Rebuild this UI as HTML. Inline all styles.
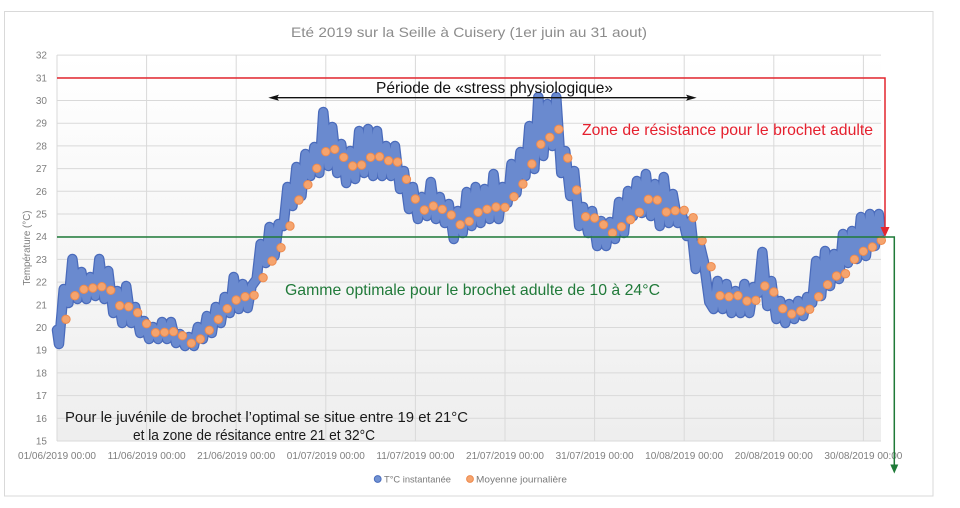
<!DOCTYPE html>
<html>
<head>
<meta charset="utf-8">
<style>
  html, body { margin: 0; padding: 0; background: #ffffff; }
  body { width: 960px; height: 508px; overflow: hidden; }
  svg { display: block; font-family: "Liberation Sans", "DejaVu Sans", sans-serif; }
</style>
</head>
<body>
<svg width="960" height="508" viewBox="0 0 960 508" xmlns="http://www.w3.org/2000/svg">
  <defs>
    <linearGradient id="bg" x1="0" y1="0" x2="0" y2="1">
      <stop offset="0" stop-color="#ffffff"/>
      <stop offset="1" stop-color="#eeeeee"/>
    </linearGradient>
  </defs>

  <!-- chart border -->
  <rect x="4.5" y="11.5" width="928.5" height="484.5" fill="#ffffff" stroke="#d9d9d9" stroke-width="1"/>

  <!-- title -->
  <text x="291" y="37" font-size="14" fill="#8c8c8c" textLength="356" lengthAdjust="spacingAndGlyphs">Eté 2019 sur la Seille à Cuisery (1er juin au 31 aout)</text>

  <!-- plot background -->
  <rect x="57" y="55" width="824" height="386" fill="url(#bg)"/>

  <!-- horizontal gridlines -->
  <g stroke="#d9d9d9" stroke-width="1">
    <line x1="57" x2="881" y1="441" y2="441"/>
    <line x1="57" x2="881" y1="418.3" y2="418.3"/>
    <line x1="57" x2="881" y1="395.6" y2="395.6"/>
    <line x1="57" x2="881" y1="372.9" y2="372.9"/>
    <line x1="57" x2="881" y1="350.2" y2="350.2"/>
    <line x1="57" x2="881" y1="327.5" y2="327.5"/>
    <line x1="57" x2="881" y1="304.8" y2="304.8"/>
    <line x1="57" x2="881" y1="282.1" y2="282.1"/>
    <line x1="57" x2="881" y1="259.4" y2="259.4"/>
    <line x1="57" x2="881" y1="236.7" y2="236.7"/>
    <line x1="57" x2="881" y1="214" y2="214"/>
    <line x1="57" x2="881" y1="191.3" y2="191.3"/>
    <line x1="57" x2="881" y1="168.6" y2="168.6"/>
    <line x1="57" x2="881" y1="145.9" y2="145.9"/>
    <line x1="57" x2="881" y1="123.2" y2="123.2"/>
    <line x1="57" x2="881" y1="100.5" y2="100.5"/>
    <line x1="57" x2="881" y1="77.8" y2="77.8"/>
    <line x1="57" x2="881" y1="55.1" y2="55.1"/>
  </g>
  <!-- vertical gridlines -->
  <g stroke="#d9d9d9" stroke-width="1">
    <line x1="57" x2="57" y1="55" y2="441"/>
    <line x1="146.6" x2="146.6" y1="55" y2="441"/>
    <line x1="236.2" x2="236.2" y1="55" y2="441"/>
    <line x1="325.8" x2="325.8" y1="55" y2="441"/>
    <line x1="415.4" x2="415.4" y1="55" y2="441"/>
    <line x1="505" x2="505" y1="55" y2="441"/>
    <line x1="594.6" x2="594.6" y1="55" y2="441"/>
    <line x1="684.2" x2="684.2" y1="55" y2="441"/>
    <line x1="773.8" x2="773.8" y1="55" y2="441"/>
    <line x1="863.4" x2="863.4" y1="55" y2="441"/>
  </g>

  <!-- y tick labels -->
  <g font-size="10" fill="#7f7f7f" text-anchor="end">
    <text x="47" y="444.5">15</text>
    <text x="47" y="421.8">16</text>
    <text x="47" y="399.1">17</text>
    <text x="47" y="376.4">18</text>
    <text x="47" y="353.7">19</text>
    <text x="47" y="331">20</text>
    <text x="47" y="308.3">21</text>
    <text x="47" y="285.6">22</text>
    <text x="47" y="262.9">23</text>
    <text x="47" y="240.2">24</text>
    <text x="47" y="217.5">25</text>
    <text x="47" y="194.8">26</text>
    <text x="47" y="172.1">27</text>
    <text x="47" y="149.4">28</text>
    <text x="47" y="126.7">29</text>
    <text x="47" y="104">30</text>
    <text x="47" y="81.3">31</text>
    <text x="47" y="58.6">32</text>
  </g>
  <!-- y axis title -->
  <text transform="translate(30,248) rotate(-90)" font-size="10" fill="#7f7f7f" text-anchor="middle" textLength="75" lengthAdjust="spacingAndGlyphs">Température (°C)</text>

  <!-- x tick labels -->
  <g font-size="10" fill="#7f7f7f" text-anchor="middle">
    <text x="57" y="459" textLength="78" lengthAdjust="spacingAndGlyphs">01/06/2019 00:00</text>
    <text x="146.6" y="459" textLength="78" lengthAdjust="spacingAndGlyphs">11/06/2019 00:00</text>
    <text x="236.2" y="459" textLength="78" lengthAdjust="spacingAndGlyphs">21/06/2019 00:00</text>
    <text x="325.8" y="459" textLength="78" lengthAdjust="spacingAndGlyphs">01/07/2019 00:00</text>
    <text x="415.4" y="459" textLength="78" lengthAdjust="spacingAndGlyphs">11/07/2019 00:00</text>
    <text x="505" y="459" textLength="78" lengthAdjust="spacingAndGlyphs">21/07/2019 00:00</text>
    <text x="594.6" y="459" textLength="78" lengthAdjust="spacingAndGlyphs">31/07/2019 00:00</text>
    <text x="684.2" y="459" textLength="78" lengthAdjust="spacingAndGlyphs">10/08/2019 00:00</text>
    <text x="773.8" y="459" textLength="78" lengthAdjust="spacingAndGlyphs">20/08/2019 00:00</text>
    <text x="863.4" y="459" textLength="78" lengthAdjust="spacingAndGlyphs">30/08/2019 00:00</text>
  </g>

  <!-- instantaneous temperature series (blue) -->
  <g transform="translate(57,0) scale(8.96,1)" fill="none" stroke-linejoin="round" stroke-linecap="round">
    <polyline vector-effect="non-scaling-stroke" stroke="#4a6bbb" stroke-width="10.5"
      points="0,330 0.22,344 0.75,289 1.28,303 1.72,259 2.28,299 2.72,272 3.28,299 3.72,277 4.28,296 4.72,259 5.28,299 5.72,271 6.28,313 6.72,291 7.28,323 7.72,286 8.28,323 8.72,307 9.28,333 9.72,321 10.28,339 10.72,327 11.28,339 11.72,322 12.28,339 12.72,322 13.28,343 13.72,334 14.28,346 14.72,337 15.28,346 15.72,327 16.28,339 16.72,316 17.28,333 17.72,307 18.28,323 18.72,297 19.28,313 19.72,277 20.28,309 20.72,284 21.28,308 21.72,286 22.28,279 22.72,244 23.28,263 23.72,227 24.28,256 24.72,224 25.28,226 25.72,187 26.28,206 26.72,167 27.28,196 27.72,154 28.28,176 28.72,147 29.28,173 29.72,112 30.28,166 30.72,127 31.28,173 31.72,144 32.28,183 32.72,151 33.28,179 33.72,131 34.28,173 34.72,129 35.28,176 35.72,131 36.28,176 36.72,146 37.28,176 37.72,146 38.28,189 38.72,171 39.28,209 39.72,187 40.28,219 40.72,197 41.28,216 41.72,182 42.28,219 42.72,197 43.28,223 43.72,204 44.28,239 44.72,211 45.28,233 45.72,192 46.28,226 46.72,187 47.28,223 47.72,189 48.28,219 48.72,174 49.28,219 49.72,187 50.28,203 50.72,164 51.28,193 51.72,152 52.28,176 52.72,126 53.28,169 53.72,97 54.28,156 54.72,104 55.28,146 55.72,97 56.28,173 56.72,151 57.28,196 57.72,171 58.28,226 58.72,207 59.28,233 59.72,211 60.28,246 60.72,221 61.28,246 61.72,222 62.28,239 62.72,202 63.28,233 63.72,191 64.28,216 64.72,181 65.28,213 65.72,174 66.28,216 66.72,184 67.28,226 67.72,177 68.28,223 68.72,194 69.28,223 69.72,214 70.28,236 70.72,221 71.28,269 71.72,244 72.2,262 72.8,302 73.28,309 73.72,281 74.28,309 74.72,284 75.28,313 75.72,291 76.28,313 76.72,284 77.28,313 77.72,287 78.28,293 78.72,252 79.28,306 79.72,281 80.28,319 80.72,301 81.28,323 81.72,304 82.28,319 82.72,301 83.28,316 83.72,297 84.28,303 84.72,261 85.28,296 85.72,251 86.28,286 86.72,254 87.28,279 87.72,234 88.28,263 88.72,231 89.28,259 89.72,217 90.28,256 90.72,214 91.28,246 91.72,214 91.95,232"/>
    <polyline vector-effect="non-scaling-stroke" stroke="#6a8acf" stroke-width="8"
      points="0,330 0.22,344 0.75,289 1.28,303 1.72,259 2.28,299 2.72,272 3.28,299 3.72,277 4.28,296 4.72,259 5.28,299 5.72,271 6.28,313 6.72,291 7.28,323 7.72,286 8.28,323 8.72,307 9.28,333 9.72,321 10.28,339 10.72,327 11.28,339 11.72,322 12.28,339 12.72,322 13.28,343 13.72,334 14.28,346 14.72,337 15.28,346 15.72,327 16.28,339 16.72,316 17.28,333 17.72,307 18.28,323 18.72,297 19.28,313 19.72,277 20.28,309 20.72,284 21.28,308 21.72,286 22.28,279 22.72,244 23.28,263 23.72,227 24.28,256 24.72,224 25.28,226 25.72,187 26.28,206 26.72,167 27.28,196 27.72,154 28.28,176 28.72,147 29.28,173 29.72,112 30.28,166 30.72,127 31.28,173 31.72,144 32.28,183 32.72,151 33.28,179 33.72,131 34.28,173 34.72,129 35.28,176 35.72,131 36.28,176 36.72,146 37.28,176 37.72,146 38.28,189 38.72,171 39.28,209 39.72,187 40.28,219 40.72,197 41.28,216 41.72,182 42.28,219 42.72,197 43.28,223 43.72,204 44.28,239 44.72,211 45.28,233 45.72,192 46.28,226 46.72,187 47.28,223 47.72,189 48.28,219 48.72,174 49.28,219 49.72,187 50.28,203 50.72,164 51.28,193 51.72,152 52.28,176 52.72,126 53.28,169 53.72,97 54.28,156 54.72,104 55.28,146 55.72,97 56.28,173 56.72,151 57.28,196 57.72,171 58.28,226 58.72,207 59.28,233 59.72,211 60.28,246 60.72,221 61.28,246 61.72,222 62.28,239 62.72,202 63.28,233 63.72,191 64.28,216 64.72,181 65.28,213 65.72,174 66.28,216 66.72,184 67.28,226 67.72,177 68.28,223 68.72,194 69.28,223 69.72,214 70.28,236 70.72,221 71.28,269 71.72,244 72.2,262 72.8,302 73.28,309 73.72,281 74.28,309 74.72,284 75.28,313 75.72,291 76.28,313 76.72,284 77.28,313 77.72,287 78.28,293 78.72,252 79.28,306 79.72,281 80.28,319 80.72,301 81.28,323 81.72,304 82.28,319 82.72,301 83.28,316 83.72,297 84.28,303 84.72,261 85.28,296 85.72,251 86.28,286 86.72,254 87.28,279 87.72,234 88.28,263 88.72,231 89.28,259 89.72,217 90.28,256 90.72,214 91.28,246 91.72,214 91.95,232"/>
  </g>

  <!-- daily mean series (orange) -->
  <g fill="#f5a46e" stroke="#ee8a4d" stroke-width="1">
    <circle cx="65.96" cy="319.3" r="4.2"/>
    <circle cx="74.92" cy="295.7" r="4.2"/>
    <circle cx="83.88" cy="289.3" r="4.2"/>
    <circle cx="92.84" cy="288" r="4.2"/>
    <circle cx="101.8" cy="286.7" r="4.2"/>
    <circle cx="110.76" cy="290.3" r="4.2"/>
    <circle cx="119.72" cy="305.7" r="4.2"/>
    <circle cx="128.68" cy="306.7" r="4.2"/>
    <circle cx="137.64" cy="312.7" r="4.2"/>
    <circle cx="146.6" cy="323.7" r="4.2"/>
    <circle cx="155.56" cy="332.7" r="4.2"/>
    <circle cx="164.52" cy="332.3" r="4.2"/>
    <circle cx="173.48" cy="331.7" r="4.2"/>
    <circle cx="182.44" cy="335.7" r="4.2"/>
    <circle cx="191.4" cy="343.3" r="4.2"/>
    <circle cx="200.36" cy="339" r="4.2"/>
    <circle cx="209.32" cy="330.3" r="4.2"/>
    <circle cx="218.28" cy="319.3" r="4.2"/>
    <circle cx="227.24" cy="308.7" r="4.2"/>
    <circle cx="236.2" cy="300" r="4.2"/>
    <circle cx="245.16" cy="296.7" r="4.2"/>
    <circle cx="254.12" cy="295.3" r="4.2"/>
    <circle cx="263.08" cy="277.7" r="4.2"/>
    <circle cx="272.04" cy="261" r="4.2"/>
    <circle cx="281" cy="247.7" r="4.2"/>
    <circle cx="289.96" cy="226" r="4.2"/>
    <circle cx="298.92" cy="200" r="4.2"/>
    <circle cx="307.88" cy="184.7" r="4.2"/>
    <circle cx="316.84" cy="168.3" r="4.2"/>
    <circle cx="325.8" cy="151.7" r="4.2"/>
    <circle cx="334.76" cy="149.3" r="4.2"/>
    <circle cx="343.72" cy="157.3" r="4.2"/>
    <circle cx="352.68" cy="166" r="4.2"/>
    <circle cx="361.64" cy="165" r="4.2"/>
    <circle cx="370.6" cy="157.3" r="4.2"/>
    <circle cx="379.56" cy="156.7" r="4.2"/>
    <circle cx="388.52" cy="160.7" r="4.2"/>
    <circle cx="397.48" cy="162" r="4.2"/>
    <circle cx="406.44" cy="179.3" r="4.2"/>
    <circle cx="415.4" cy="199" r="4.2"/>
    <circle cx="424.36" cy="210" r="4.2"/>
    <circle cx="433.32" cy="206" r="4.2"/>
    <circle cx="442.28" cy="209.3" r="4.2"/>
    <circle cx="451.24" cy="215" r="4.2"/>
    <circle cx="460.2" cy="224.7" r="4.2"/>
    <circle cx="469.16" cy="221.3" r="4.2"/>
    <circle cx="478.12" cy="212.3" r="4.2"/>
    <circle cx="487.08" cy="209.3" r="4.2"/>
    <circle cx="496.04" cy="207" r="4.2"/>
    <circle cx="505" cy="207.3" r="4.2"/>
    <circle cx="513.96" cy="196.7" r="4.2"/>
    <circle cx="522.92" cy="184" r="4.2"/>
    <circle cx="531.88" cy="164" r="4.2"/>
    <circle cx="540.84" cy="144.3" r="4.2"/>
    <circle cx="549.8" cy="137.3" r="4.2"/>
    <circle cx="558.76" cy="129.3" r="4.2"/>
    <circle cx="567.72" cy="158" r="4.2"/>
    <circle cx="576.68" cy="190" r="4.2"/>
    <circle cx="585.64" cy="216.7" r="4.2"/>
    <circle cx="594.6" cy="218" r="4.2"/>
    <circle cx="603.56" cy="224.7" r="4.2"/>
    <circle cx="612.52" cy="233" r="4.2"/>
    <circle cx="621.48" cy="226.7" r="4.2"/>
    <circle cx="630.44" cy="219.7" r="4.2"/>
    <circle cx="639.4" cy="212.3" r="4.2"/>
    <circle cx="648.36" cy="199.3" r="4.2"/>
    <circle cx="657.32" cy="200" r="4.2"/>
    <circle cx="666.28" cy="212" r="4.2"/>
    <circle cx="675.24" cy="210.7" r="4.2"/>
    <circle cx="684.2" cy="210.3" r="4.2"/>
    <circle cx="693.16" cy="217.7" r="4.2"/>
    <circle cx="702.12" cy="240.7" r="4.2"/>
    <circle cx="711.08" cy="266.7" r="4.2"/>
    <circle cx="720.04" cy="295.7" r="4.2"/>
    <circle cx="729" cy="296.7" r="4.2"/>
    <circle cx="737.96" cy="295.7" r="4.2"/>
    <circle cx="746.92" cy="301" r="4.2"/>
    <circle cx="755.88" cy="300.3" r="4.2"/>
    <circle cx="764.84" cy="286" r="4.2"/>
    <circle cx="773.8" cy="292" r="4.2"/>
    <circle cx="782.76" cy="308.7" r="4.2"/>
    <circle cx="791.72" cy="314" r="4.2"/>
    <circle cx="800.68" cy="311" r="4.2"/>
    <circle cx="809.64" cy="309.3" r="4.2"/>
    <circle cx="818.6" cy="296.7" r="4.2"/>
    <circle cx="827.56" cy="284.7" r="4.2"/>
    <circle cx="836.52" cy="276" r="4.2"/>
    <circle cx="845.48" cy="273.7" r="4.2"/>
    <circle cx="854.44" cy="259.3" r="4.2"/>
    <circle cx="863.4" cy="251.3" r="4.2"/>
    <circle cx="872.36" cy="247" r="4.2"/>
    <circle cx="881.32" cy="240.3" r="4.2"/>
  </g>

  <!-- red resistance line with arrow -->
  <polyline points="57,78 885,78 885,229" fill="none" stroke="#e3262f" stroke-width="1.5"/>
  <polygon points="880.5,227 889.5,227 885,237" fill="#e3262f"/>

  <!-- green optimal line with arrow -->
  <polyline points="57,237 894.3,237 894.3,466" fill="none" stroke="#1f7a38" stroke-width="1.5"/>
  <polygon points="890.3,464.5 898.3,464.5 894.3,473.5" fill="#1f7a38"/>

  <!-- stress period arrow -->
  <line x1="276" y1="97.7" x2="689" y2="97.7" stroke="#111111" stroke-width="1.3"/>
  <polygon points="268.3,97.7 279,94.6 277,97.7 279,100.8" fill="#111111"/>
  <polygon points="696.7,97.7 686,94.6 688,97.7 686,100.8" fill="#111111"/>

  <!-- annotations -->
  <text x="376" y="93" font-size="16" fill="#111111" textLength="237" lengthAdjust="spacingAndGlyphs">Période de «stress physiologique»</text>
  <text x="582" y="135" font-size="16" fill="#e5202e" textLength="291" lengthAdjust="spacingAndGlyphs">Zone de résistance pour le brochet adulte</text>
  <text x="285" y="295" font-size="16" fill="#217a3a" textLength="375" lengthAdjust="spacingAndGlyphs">Gamme optimale  pour le brochet adulte de 10 à 24°C</text>
  <text x="65" y="422" font-size="15" fill="#1a1a1a" textLength="403" lengthAdjust="spacingAndGlyphs">Pour le juvénile de brochet l’optimal se situe entre 19 et 21°C</text>
  <text x="133" y="440" font-size="15" fill="#1a1a1a" textLength="242" lengthAdjust="spacingAndGlyphs">et la zone de résitance entre 21 et 32°C</text>

  <!-- legend -->
  <circle cx="377.7" cy="479" r="3.4" fill="#7192d3" stroke="#4a6cbc" stroke-width="1"/>
  <text x="384" y="482.5" font-size="9.5" fill="#7a7a7a" textLength="67" lengthAdjust="spacingAndGlyphs">T°C instantanée</text>
  <circle cx="470" cy="479" r="3.4" fill="#f5a46e" stroke="#ee8a4d" stroke-width="1"/>
  <text x="476" y="482.5" font-size="9.5" fill="#7a7a7a" textLength="91" lengthAdjust="spacingAndGlyphs">Moyenne journalière</text>
</svg>
</body>
</html>
